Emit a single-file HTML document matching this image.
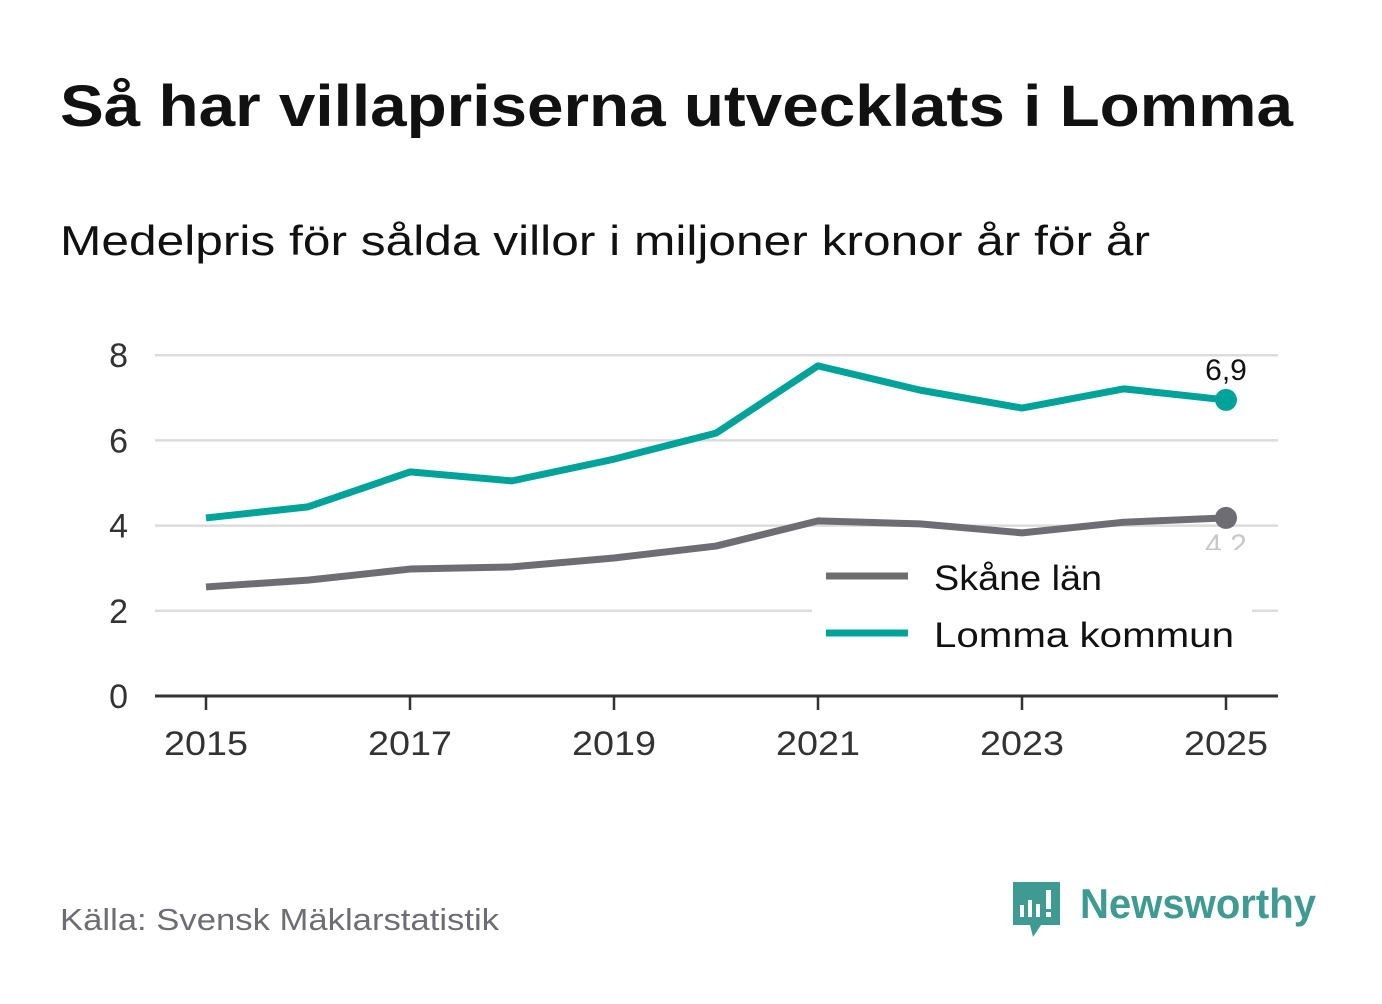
<!DOCTYPE html>
<html><head><meta charset="utf-8"><style>
body{margin:0;background:#fff;font-family:"Liberation Sans",sans-serif;}
svg text{font-family:"Liberation Sans",sans-serif;}
</style></head><body>
<svg id="c" width="1382" height="999">
<text x="60" y="126" font-size="58" font-weight="bold" fill="#111" textLength="1233" lengthAdjust="spacingAndGlyphs">Så har villapriserna utvecklats i Lomma</text>
<text x="60" y="255" font-size="42" fill="#111" textLength="1090" lengthAdjust="spacingAndGlyphs">Medelpris för sålda villor i miljoner kronor år för år</text>
<g id="grid"></g><g id="lines"></g>
<g>
<rect x="812" y="550" width="440" height="110" fill="#fff"/>
<line x1="826" y1="576" x2="908" y2="576" stroke="#6e6d73" stroke-width="7"/>
<text x="934" y="590" font-size="35" fill="#111" textLength="168" lengthAdjust="spacingAndGlyphs">Skåne län</text>
<line x1="826" y1="633" x2="908" y2="633" stroke="#00a39a" stroke-width="7"/>
<text x="934" y="647" font-size="35" fill="#111" textLength="300" lengthAdjust="spacingAndGlyphs">Lomma kommun</text>
</g>
<text x="60" y="930" font-size="31" fill="#6e6d73" textLength="439" lengthAdjust="spacingAndGlyphs">Källa: Svensk Mäklarstatistik</text>
<g>
<path d="M1013 882 h47 v43 h-19 l-8 12 l-3 -12 h-17 z" fill="#3f9a92"/>
<rect x="1020" y="905" width="4" height="12" fill="#fff"/><rect x="1028" y="900" width="4" height="17" fill="#fff"/><rect x="1036" y="904" width="4" height="13" fill="#fff"/><rect x="1046" y="890" width="5" height="19" fill="#fff"/><rect x="1046" y="912" width="5" height="5" fill="#fff"/>
<text x="1080" y="918" font-size="42" font-weight="bold" fill="#3f9a92" textLength="236" lengthAdjust="spacingAndGlyphs">Newsworthy</text>
</g>
</svg>
<script>
const years=[2015,2016,2017,2018,2019,2020,2021,2022,2023,2024,2025];
const skane=[2.56,2.72,2.98,3.03,3.24,3.52,4.11,4.04,3.83,4.08,4.18];
const lomma=[4.18,4.44,5.26,5.05,5.56,6.17,7.75,7.18,6.76,7.21,6.95];
const yTicks=[0,2,4,6,8];
const xTicks=[2015,2017,2019,2021,2023,2025];
const lastLabels=["4,2","6,9"];
const NS="http://www.w3.org/2000/svg";
const X=v=>206+(v-2015)*102, Y=v=>696-v*42.6;
function mk(t,a,p){const e=document.createElementNS(NS,t);for(const k in a)e.setAttribute(k,a[k]);p.appendChild(e);return e;}
const g=document.getElementById('grid'), L=document.getElementById('lines');
yTicks.forEach(v=>{
 if(v>0){const l=mk('line',{x1:155,x2:1278,y1:Y(v),y2:Y(v),stroke:'#dcdcdc','stroke-width':2.5},g);
 
 }
 const t=mk('text',{x:128,y:Y(v)+12,'font-size':34,fill:'#333','text-anchor':'end'},g);t.textContent=v;
 
 
});
const ax=mk('line',{x1:155,x2:1278,y1:696,y2:696,stroke:'#333','stroke-width':3},g);


xTicks.forEach(v=>{
 mk('line',{x1:X(v),x2:X(v),y1:696,y2:710,stroke:'#333','stroke-width':2.5},g);
 const t=mk('text',{x:X(v),y:755,'font-size':34,fill:'#333','text-anchor':'middle',textLength:84,lengthAdjust:'spacingAndGlyphs'},g);t.textContent=v;
 
 
});
[[skane,'#6e6d73','skane-line'],[lomma,'#00a39a','lomma-line']].forEach(([d,c,n],i)=>{
 const p=mk('polyline',{points:d.map((v,j)=>X(years[j])+','+Y(v)).join(' '),fill:'none',stroke:c,'stroke-width':7,'stroke-linejoin':'round'},L);
 
 
 const last=d[d.length-1], lx=X(years[years.length-1]);
 const dot=mk('circle',{cx:lx,cy:Y(last),r:11,fill:c},L);
 
 
 const t=mk('text',{x:lx,y:i==0?Y(last)+37:Y(last)-20,'font-size':30,fill:i==0?'#c8c8c8':'#111','text-anchor':'middle'},L);
 t.textContent=lastLabels[i];
 
 
});
</script>
</body></html>
